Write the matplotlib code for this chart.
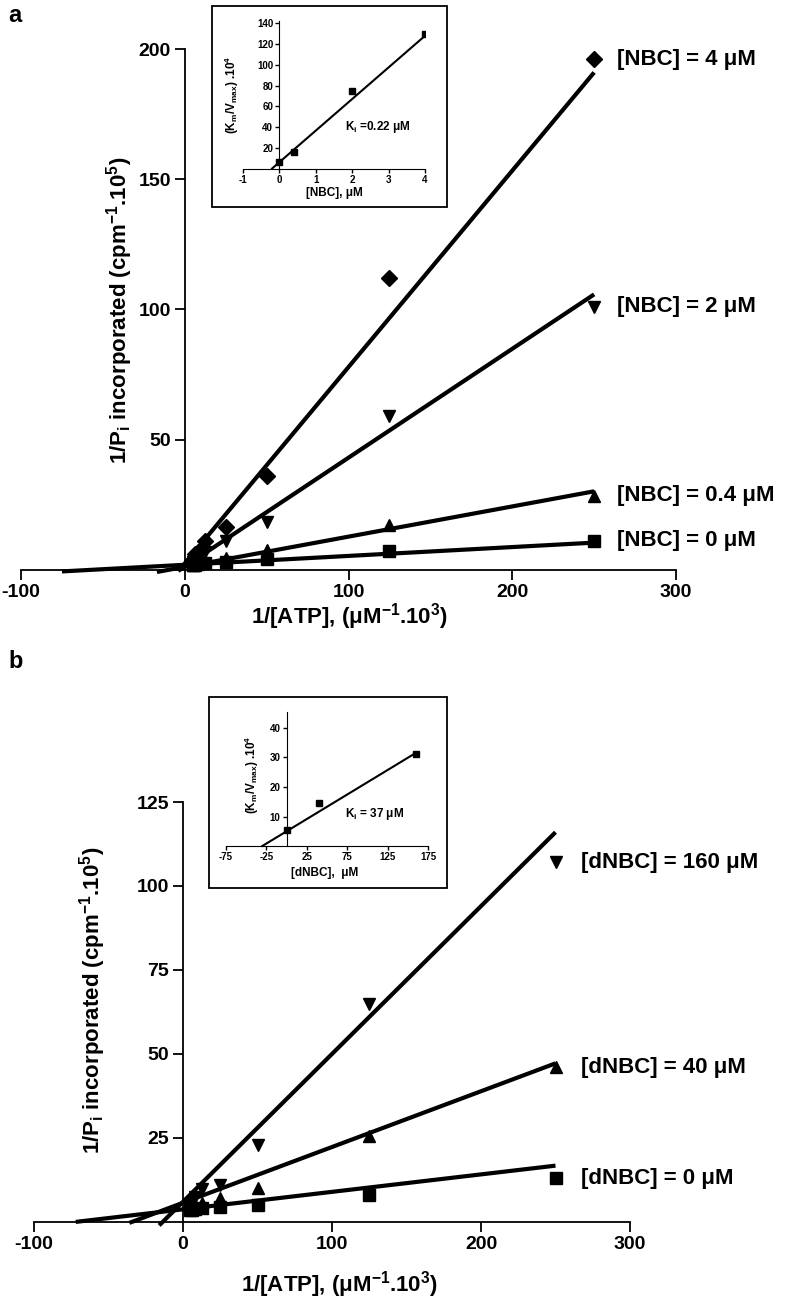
import numpy as np
import matplotlib
matplotlib.use('Agg')
import matplotlib.pyplot as plt
from matplotlib.patches import Rectangle

plt.rcParams['font.family'] = ['Liberation Sans', 'DejaVu Sans']
plt.rcParams['font.weight'] = 'bold'
plt.rcParams['mathtext.default'] = 'regular'
plt.rcParams['axes.unicode_minus'] = False

# ---- data, panel a (NBC) ----
atp_inv = [5, 6.25, 8.33, 12.5, 25, 50, 125, 250]
nbc_labels = ['[NBC] = 0 μM', '[NBC] = 0.4 μM', '[NBC] = 2 μM', '[NBC] = 4 μM']
nbc_markers = ['s', '^', 'v', 'D']
nbc_y = [
    [2.0, 2.2, 2.3, 2.5, 3.2, 4.2, 7.3, 11.2],
    [2.0, 2.0, 2.5, 3.0, 4.5, 7.7, 17.3, 28.5],
    [3.0, 4.0, 5.0, 7.0, 11.0, 18.5, 59.0, 101.0],
    [4.0, 6.0, 7.0, 11.0, 16.5, 36.0, 112.0, 196.0],
]
nbc_slope = [0.034, 0.116, 0.418, 0.754]
nbc_icpt = [2.0, 1.2, 1.3, 2.5]
nbc_xstart = [-75, -17, -4, -2]

# inset a: replot of slopes
nbc_conc = [0, 0.4, 2, 4]
nbc_kmv = [6.7, 16.5, 75, 129]
nbc_fit = (30.3, 6.5, -0.2, 4.0)  # slope, intercept, x from, x to

# ---- data, panel b (dNBC) ----
dnbc_labels = ['[dNBC] = 0 μM', '[dNBC] = 40 μM', '[dNBC] = 160 μM']
dnbc_markers = ['s', '^', 'v']
dnbc_y = [
    [3.5, 3.6, 3.8, 4.0, 4.5, 5.0, 8.0, 13.0],
    [4.0, 4.5, 5.0, 5.5, 7.0, 10.0, 25.7, 46.0],
    [5.0, 6.0, 7.5, 9.7, 11.0, 22.8, 65.0, 107.0],
]
dnbc_slope = [0.052, 0.166, 0.44]
dnbc_icpt = [3.75, 5.7, 6.0]
dnbc_xstart = [-72, -36, -16]

# inset b
dnbc_conc = [0, 40, 160]
dnbc_kmv = [5.4, 14.6, 31.2]
dnbc_fit = (0.166, 5.0, -30, 160)

W, H = 786, 1306
fig = plt.figure(figsize=(W / 100, H / 100), dpi=100)


def frac(x0, y0, x1, y1):
    # pixel box -> figure fraction rect
    return [x0 / W, 1 - y1 / H, (x1 - x0) / W, (y1 - y0) / H]


def main_axes(rect, ytop, yticks):
    ax = fig.add_axes(rect)
    ax.set_xlim(-100, 300)
    ax.set_ylim(-3, ytop)
    for s in ['top', 'right']:
        ax.spines[s].set_visible(False)
    ax.spines['left'].set_position(('data', 0))
    ax.spines['bottom'].set_position(('data', 0))
    ax.spines['left'].set_bounds(0, ytop)
    ax.spines['bottom'].set_bounds(-100, 300)
    for s in ['left', 'bottom']:
        ax.spines[s].set_linewidth(1.3)
    ax.set_xticks([-100, 0, 100, 200, 300])
    ax.set_yticks(yticks)
    ax.tick_params(direction='out', length=7, width=1.3, labelsize=14, pad=3)
    ax.patch.set_alpha(0)
    return ax


def inset_axes(rect, xlim, ylim, xticks, yticks):
    ax = fig.add_axes(rect)
    ax.set_xlim(*xlim)
    ax.set_ylim(*ylim)
    for s in ['top', 'right']:
        ax.spines[s].set_visible(False)
    ax.spines['left'].set_position(('data', 0))
    ax.spines['bottom'].set_position(('data', 0))
    ax.spines['left'].set_bounds(0, ylim[1])
    ax.spines['bottom'].set_bounds(xlim[0], xlim[1])
    ax.set_xticks(xticks)
    ax.set_yticks(yticks)
    ax.tick_params(direction='out', length=3, width=1, labelsize=7, pad=1.5)
    ax.patch.set_alpha(0)
    return ax


# ---------------- panel a ----------------
axa = main_axes(frac(21, 49, 676, 577.8), 200, [50, 100, 150, 200])
for lab, m, ys, k, b, x0 in zip(nbc_labels, nbc_markers, nbc_y, nbc_slope, nbc_icpt, nbc_xstart):
    xs = np.array([x0, 250])
    axa.plot(xs, k * xs + b, color='black', lw=3, solid_capstyle='butt')
    axa.plot(atp_inv, ys, m, color='black', ms=9 if m != 'D' else 8, clip_on=False)
    axa.text(264, ys[-1], lab, fontsize=16, fontweight='bold', va='center', ha='left')

fig.text(8 / W, 1 - 16 / H, 'a', fontsize=17, fontweight='bold', va='center')
fig.text(120 / W, 1 - 310 / H, r'1/P$_i$ incorporated (cpm$^{-1}$.10$^5$)',
         rotation=90, fontsize=16, fontweight='bold', ha='center', va='center')
fig.text(350 / W, 1 - 617 / H, r'1/[ATP], (μM$^{-1}$.10$^3$)',
         fontsize=16, fontweight='bold', ha='center', va='center')

fig.patches.append(Rectangle((212 / W, 1 - 207 / H), 235 / W, 201 / H, fill=False,
                             lw=1.3, ec='black', transform=fig.transFigure))
ina = inset_axes(frac(243, 20.9, 425, 170), (-1, 4), (-1, 142),
                 [-1, 0, 1, 2, 3, 4], [20, 40, 60, 80, 100, 120, 140])
xs = np.array(nbc_fit[2:])
ina.plot(xs, nbc_fit[0] * xs + nbc_fit[1], color='black', lw=1.5)
ina.plot(nbc_conc, nbc_kmv, 's', color='black', ms=4)
ina.text(1.8, 40, r'K$_i$ =0.22 μM', fontsize=8.5, fontweight='bold', va='center')
fig.text(232 / W, 1 - 95 / H, r'(K$_m$/V$_{max}$) .10$^4$', rotation=90,
         fontsize=8.5, fontweight='bold', ha='center', va='center')
fig.text(334 / W, 1 - 193 / H, '[NBC], μM', fontsize=8.5, fontweight='bold',
         ha='center', va='center')

# ---------------- panel b ----------------
axb = main_axes(frac(34, 802, 630, 1232), 125, [25, 50, 75, 100, 125])
for lab, m, ys, k, b, x0 in zip(dnbc_labels, dnbc_markers, dnbc_y, dnbc_slope, dnbc_icpt, dnbc_xstart):
    xs = np.array([x0, 250])
    axb.plot(xs, k * xs + b, color='black', lw=3, solid_capstyle='butt')
    axb.plot(atp_inv, ys, m, color='black', ms=9, clip_on=False)
    axb.text(267, ys[-1], lab, fontsize=16, fontweight='bold', va='center', ha='left')

fig.text(8 / W, 1 - 662 / H, 'b', fontsize=17, fontweight='bold', va='center')
fig.text(93 / W, 1 - 1000 / H, r'1/P$_i$ incorporated (cpm$^{-1}$.10$^5$)',
         rotation=90, fontsize=16, fontweight='bold', ha='center', va='center')
fig.text(340 / W, 1 - 1285 / H, r'1/[ATP], (μM$^{-1}$.10$^3$)',
         fontsize=16, fontweight='bold', ha='center', va='center')

fig.patches.append(Rectangle((209 / W, 1 - 888 / H), 238 / W, 191 / H, fill=False,
                             lw=1.3, ec='black', transform=fig.transFigure))
inb = inset_axes(frac(226, 712, 428, 849), (-75, 175), (-1, 45.4),
                 [-75, -25, 25, 75, 125, 175], [10, 20, 30, 40])
xs = np.array(dnbc_fit[2:])
inb.plot(xs, dnbc_fit[0] * xs + dnbc_fit[1], color='black', lw=1.5)
inb.plot(dnbc_conc, dnbc_kmv, 's', color='black', ms=4)
inb.text(72, 11, r'K$_i$ = 37 μM', fontsize=8.5, fontweight='bold', va='center')
fig.text(252 / W, 1 - 775 / H, r'(K$_m$/V$_{max}$) .10$^4$', rotation=90,
         fontsize=8.5, fontweight='bold', ha='center', va='center')
fig.text(325 / W, 1 - 873 / H, '[dNBC],  μM', fontsize=8.5, fontweight='bold',
         ha='center', va='center')

fig.savefig('out.png', dpi=100)
